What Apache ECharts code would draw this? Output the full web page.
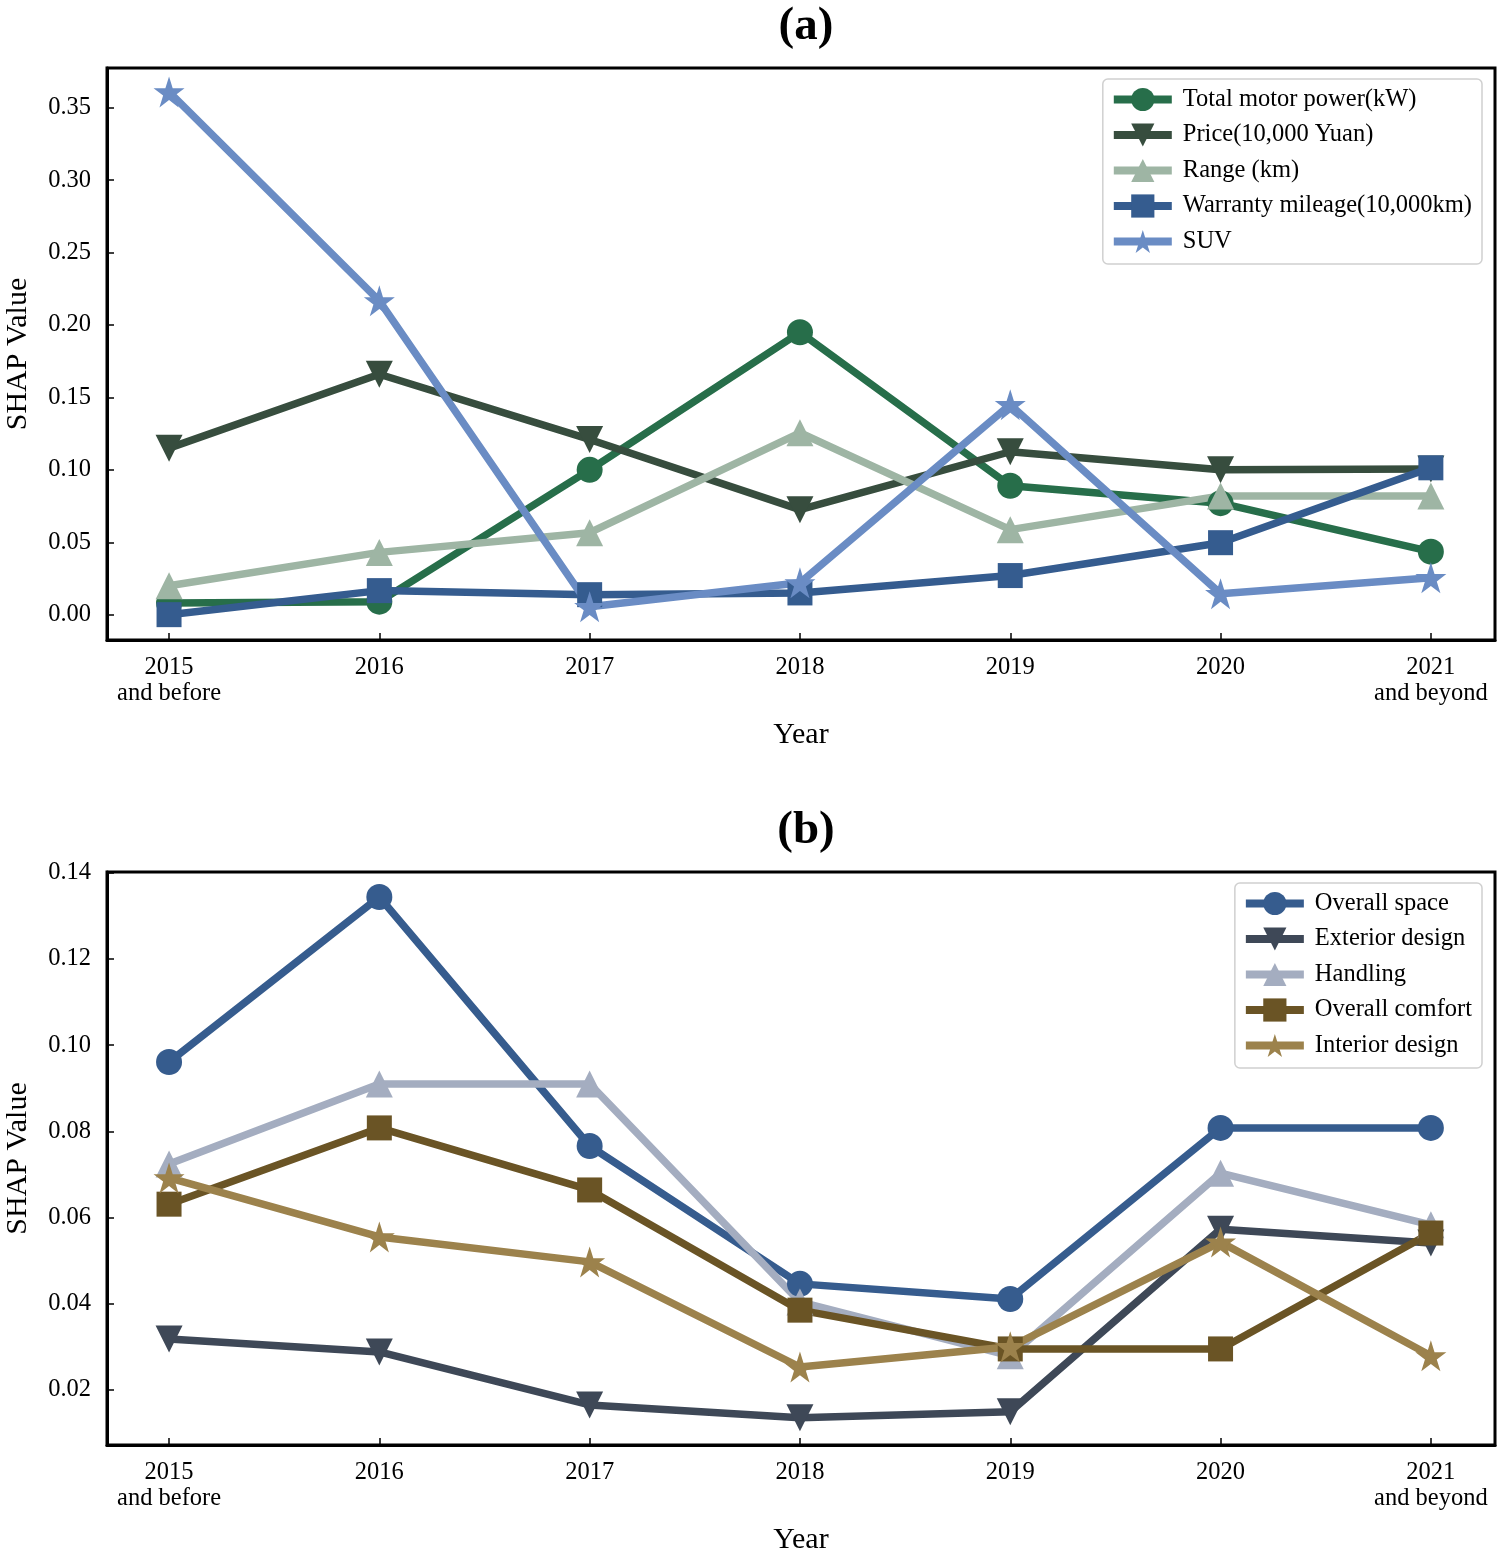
<!DOCTYPE html>
<html>
<head>
<meta charset="utf-8">
<script src="https://cdn.jsdelivr.net/npm/echarts@6/dist/echarts.min.js"></script>
<style>html,body{margin:0;padding:0;background:#fff;}#c{width:1500px;height:1551px;}</style>
</head>
<body>
<div id="c"></div>
<script>
const categories = ['2015\nand before', '2016', '2017', '2018', '2019', '2020', '2021\nand beyond'];

const namesA = ['Total motor power(kW)', 'Price(10,000 Yuan)', 'Range (km)', 'Warranty mileage(10,000km)', 'SUV'];
const motorPower = [0.008, 0.009, 0.100, 0.195, 0.089, 0.077, 0.0435];
const price = [0.115, 0.166, 0.121, 0.0725, 0.1125, 0.100, 0.1005];
const rangeKm = [0.020, 0.043, 0.0566, 0.1256, 0.0587, 0.082, 0.082];
const warranty = [0.000, 0.0166, 0.0138, 0.015, 0.027, 0.0497, 0.1014];
const suv = [0.361, 0.2167, 0.0055, 0.022, 0.145, 0.0145, 0.0255];

const namesB = ['Overall space', 'Exterior design', 'Handling', 'Overall comfort', 'Interior design'];
const overallSpace = [0.0961, 0.1344, 0.0766, 0.0446, 0.0411, 0.0808, 0.0808];
const exteriorDesign = [0.0318, 0.0288, 0.0165, 0.0135, 0.0149, 0.0573, 0.0541];
const handling = [0.0724, 0.091, 0.091, 0.0404, 0.0279, 0.0703, 0.0583];
const overallComfort = [0.0631, 0.0808, 0.0664, 0.0385, 0.0295, 0.0295, 0.0564];
const interiorDesign = [0.0692, 0.0555, 0.0497, 0.0253, 0.030, 0.0543, 0.0279];

const yTicksA = [0, 0.05, 0.10, 0.15, 0.20, 0.25, 0.30, 0.35];
const yTicksB = [0.02, 0.04, 0.06, 0.08, 0.10, 0.12, 0.14];

const colorsA = ['#276e4a', '#374d3e', '#9eb5a4', '#355c8f', '#6a8cc4'];
const colorsB = ['#365c8e', '#3e4857', '#a4adc0', '#6a5425', '#9c824c'];

const STAR = 'path://M0,-1L0.2245,-0.309L0.951,-0.309L0.3633,0.118L0.5878,0.809L0,0.382L-0.5878,0.809L-0.3633,0.118L-0.951,-0.309L-0.2245,-0.309Z';
const symbols = [
  {symbol: 'circle', size: 26, rot: 0},
  {symbol: 'triangle', size: 27, rot: 180},
  {symbol: 'triangle', size: 27, rot: 0},
  {symbol: 'rect', size: 25, rot: 0},
  {symbol: STAR, size: 31, rot: 0}
];

const FONT = 'Liberation Serif';
const xTickVals = categories.map((c, i) => i);

function makeX(gridIndex) {
  return {
    type: 'value', gridIndex, min: -0.295, max: 6.305,
    name: 'Year', nameLocation: 'middle', nameGap: 80,
    nameTextStyle: {fontFamily: FONT, fontSize: 30, color: '#000'},
    axisLine: {show: true, onZero: false, lineStyle: {color: '#000', width: 3}},
    axisTick: {show: true, inside: true, length: 7, customValues: xTickVals, lineStyle: {color: '#000', width: 1.5}},
    axisLabel: {customValues: xTickVals, fontFamily: FONT, fontSize: 24.5, color: '#000', margin: 15, lineHeight: 26,
      formatter: v => categories[Math.round(v)]},
    splitLine: {show: false}
  };
}
function makeY(gridIndex, min, max, ticks) {
  return {
    type: 'value', gridIndex, min, max,
    name: 'SHAP Value', nameLocation: 'middle', nameGap: 74,
    nameTextStyle: {fontFamily: FONT, fontSize: 30, color: '#000'},
    axisLine: {show: true, onZero: false, lineStyle: {color: '#000', width: 3}},
    axisTick: {show: true, inside: true, length: 7, customValues: ticks, lineStyle: {color: '#000', width: 1.5}},
    axisLabel: {customValues: ticks, fontFamily: FONT, fontSize: 24.5, color: '#000', margin: 16,
      formatter: v => v.toFixed(2)},
    splitLine: {show: false}
  };
}
function makeSeries(name, values, color, sym, idx) {
  return {
    type: 'line', name, xAxisIndex: idx, yAxisIndex: idx,
    data: values.map((v, i) => [i, v]),
    symbol: sym.symbol, symbolSize: sym.size, symbolRotate: sym.rot,
    showAllSymbol: true,
    lineStyle: {color, width: 7.5},
    itemStyle: {color, borderWidth: 0},
    emphasis: {disabled: true},
    animation: false
  };
}
const seriesA = [motorPower, price, rangeKm, warranty, suv].map((d, i) => makeSeries(namesA[i], d, colorsA[i], symbols[i], 0));
const seriesB = [overallSpace, exteriorDesign, handling, overallComfort, interiorDesign].map((d, i) => makeSeries(namesB[i], d, colorsB[i], symbols[i], 1));

function makeLegend(names, right, top) {
  return {
    data: names, orient: 'vertical', right, top,
    itemWidth: 58, itemHeight: 29, itemGap: 10.5,
    padding: [8, 10, 10, 7],
    lineStyle: {width: 8},
    borderColor: '#d0d0d0', borderWidth: 1.5, borderRadius: 5, backgroundColor: '#fff',
    textStyle: {fontFamily: FONT, fontSize: 24.5, color: '#000', padding: [0, 0, 0, 6]},
    selectedMode: false
  };
}

const chart = echarts.init(document.getElementById('c'), null, {renderer: 'canvas'});
chart.setOption({
  animation: false,
  backgroundColor: '#fff',
  title: [
    {text: '(a)', left: 801, top: -2, textAlign: 'center', textStyle: {fontFamily: FONT, fontSize: 47, fontWeight: 'bold', color: '#000'}},
    {text: '(b)', left: 801, top: 802, textAlign: 'center', textStyle: {fontFamily: FONT, fontSize: 47, fontWeight: 'bold', color: '#000'}}
  ],
  grid: [
    {left: 107, top: 68, width: 1388, height: 572, show: true, borderColor: '#000', borderWidth: 3, backgroundColor: 'transparent', outerBoundsMode: 'none', containLabel: false},
    {left: 107, top: 872, width: 1388, height: 573, show: true, borderColor: '#000', borderWidth: 3, backgroundColor: 'transparent', outerBoundsMode: 'none', containLabel: false}
  ],
  legend: [makeLegend(namesA, 18, 79), makeLegend(namesB, 18, 883)],
  xAxis: [makeX(0), makeX(1)],
  yAxis: [makeY(0, -0.0175, 0.3775, yTicksA), makeY(1, 0.0072, 0.1402, yTicksB)],
  series: seriesA.concat(seriesB)
});
</script>
</body>
</html>
